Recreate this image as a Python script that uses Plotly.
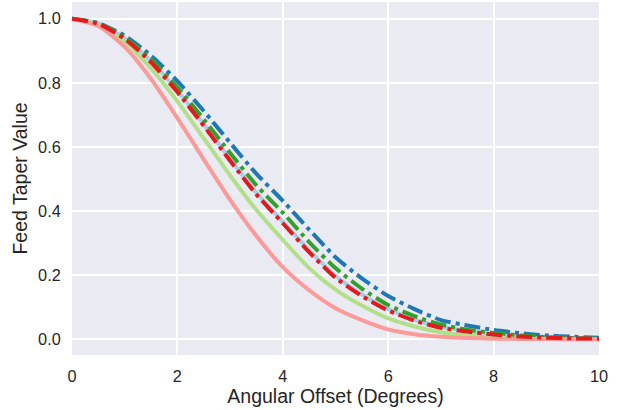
import plotly.graph_objects as go

# Angular offset samples (degrees)
offset_deg = [0.0, 0.5, 1.0, 1.5, 2.0, 2.5, 3.0, 3.5, 4.0, 4.5, 5.0,
              5.5, 6.0, 6.5, 7.0, 7.5, 8.0, 8.5, 9.0, 9.5, 10.0]

# Feed taper values
taper_lightblue = [1.0, 0.985, 0.939, 0.867, 0.775, 0.671, 0.562, 0.457, 0.367, 0.278, 0.198,
                   0.140, 0.094, 0.061, 0.039, 0.026, 0.016, 0.010, 0.006, 0.003, 0.002]
taper_blue = [1.0, 0.986, 0.947, 0.885, 0.805, 0.712, 0.613, 0.516, 0.432, 0.342, 0.256,
              0.190, 0.135, 0.094, 0.060, 0.043, 0.029, 0.019, 0.012, 0.008, 0.005]
taper_lightgreen = [1.0, 0.981, 0.928, 0.845, 0.742, 0.627, 0.511, 0.403, 0.310, 0.222, 0.155,
                    0.105, 0.065, 0.040, 0.022, 0.012, 0.007, 0.004, 0.002, 0.001, 0.001]
taper_green = [1.0, 0.985, 0.942, 0.873, 0.786, 0.686, 0.581, 0.480, 0.395, 0.303, 0.222,
               0.158, 0.107, 0.072, 0.046, 0.030, 0.020, 0.012, 0.007, 0.004, 0.002]
taper_pink = [1.0, 0.977, 0.912, 0.812, 0.690, 0.561, 0.435, 0.322, 0.225, 0.153, 0.097,
              0.060, 0.031, 0.016, 0.008, 0.004, 0.002, 0.001, 0.001, 0.0, 0.0]
taper_red = [1.0, 0.984, 0.937, 0.864, 0.771, 0.666, 0.557, 0.452, 0.362, 0.272, 0.192,
             0.135, 0.090, 0.058, 0.036, 0.024, 0.015, 0.009, 0.005, 0.003, 0.002]

x_ticks = [0, 2, 4, 6, 8, 10]
y_ticks = [0.0, 0.2, 0.4, 0.6, 0.8, 1.0]

series = [
    (taper_lightblue, "#a6cee3", "solid"),
    (taper_blue, "#1f78b4", "16px,5px,4px,5px"),
    (taper_lightgreen, "#b2df8a", "solid"),
    (taper_green, "#33a02c", "16px,5px,4px,5px"),
    (taper_pink, "#fb9a99", "solid"),
    (taper_red, "#e31a1c", "16px,5px,4px,5px"),
]

fig = go.Figure()
for vals, col, dash in series:
    fig.add_trace(go.Scatter(x=offset_deg, y=vals, mode="lines",
                             line=dict(color=col, width=4, dash=dash, shape="spline", smoothing=0.6),
                             showlegend=False, hoverinfo="skip"))

font_color = "#262626"
fig.update_layout(
    width=626, height=410,
    margin=dict(l=72, r=27, t=2, b=55),
    paper_bgcolor="white", plot_bgcolor="#EAEAF2",
    font=dict(family="Liberation Sans, Arial, sans-serif", size=16.3, color=font_color),
    showlegend=False,
)
fig.update_xaxes(range=[0, 10], tickvals=x_ticks, ticktext=[str(v) for v in x_ticks],
                 showgrid=True, gridcolor="white", gridwidth=1.5, zeroline=False, showline=False,
                 ticks="outside", ticklen=6, tickcolor="rgba(0,0,0,0)",
                 title=dict(text="Angular Offset (Degrees)", font=dict(size=19.5), standoff=4))
fig.update_yaxes(range=[-0.049, 1.052], tickvals=y_ticks, ticktext=[f"{v:.1f}" for v in y_ticks],
                 showgrid=True, gridcolor="white", gridwidth=1.5, zeroline=False, showline=False,
                 ticks="outside", ticklen=7, tickcolor="rgba(0,0,0,0)",
                 title=dict(text="Feed Taper Value", font=dict(size=19.5), standoff=5))

fig.write_html("out.html", config={"displayModeBar": False},
               post_script="document.body.style.margin='0px';document.body.style.padding='0px';")
